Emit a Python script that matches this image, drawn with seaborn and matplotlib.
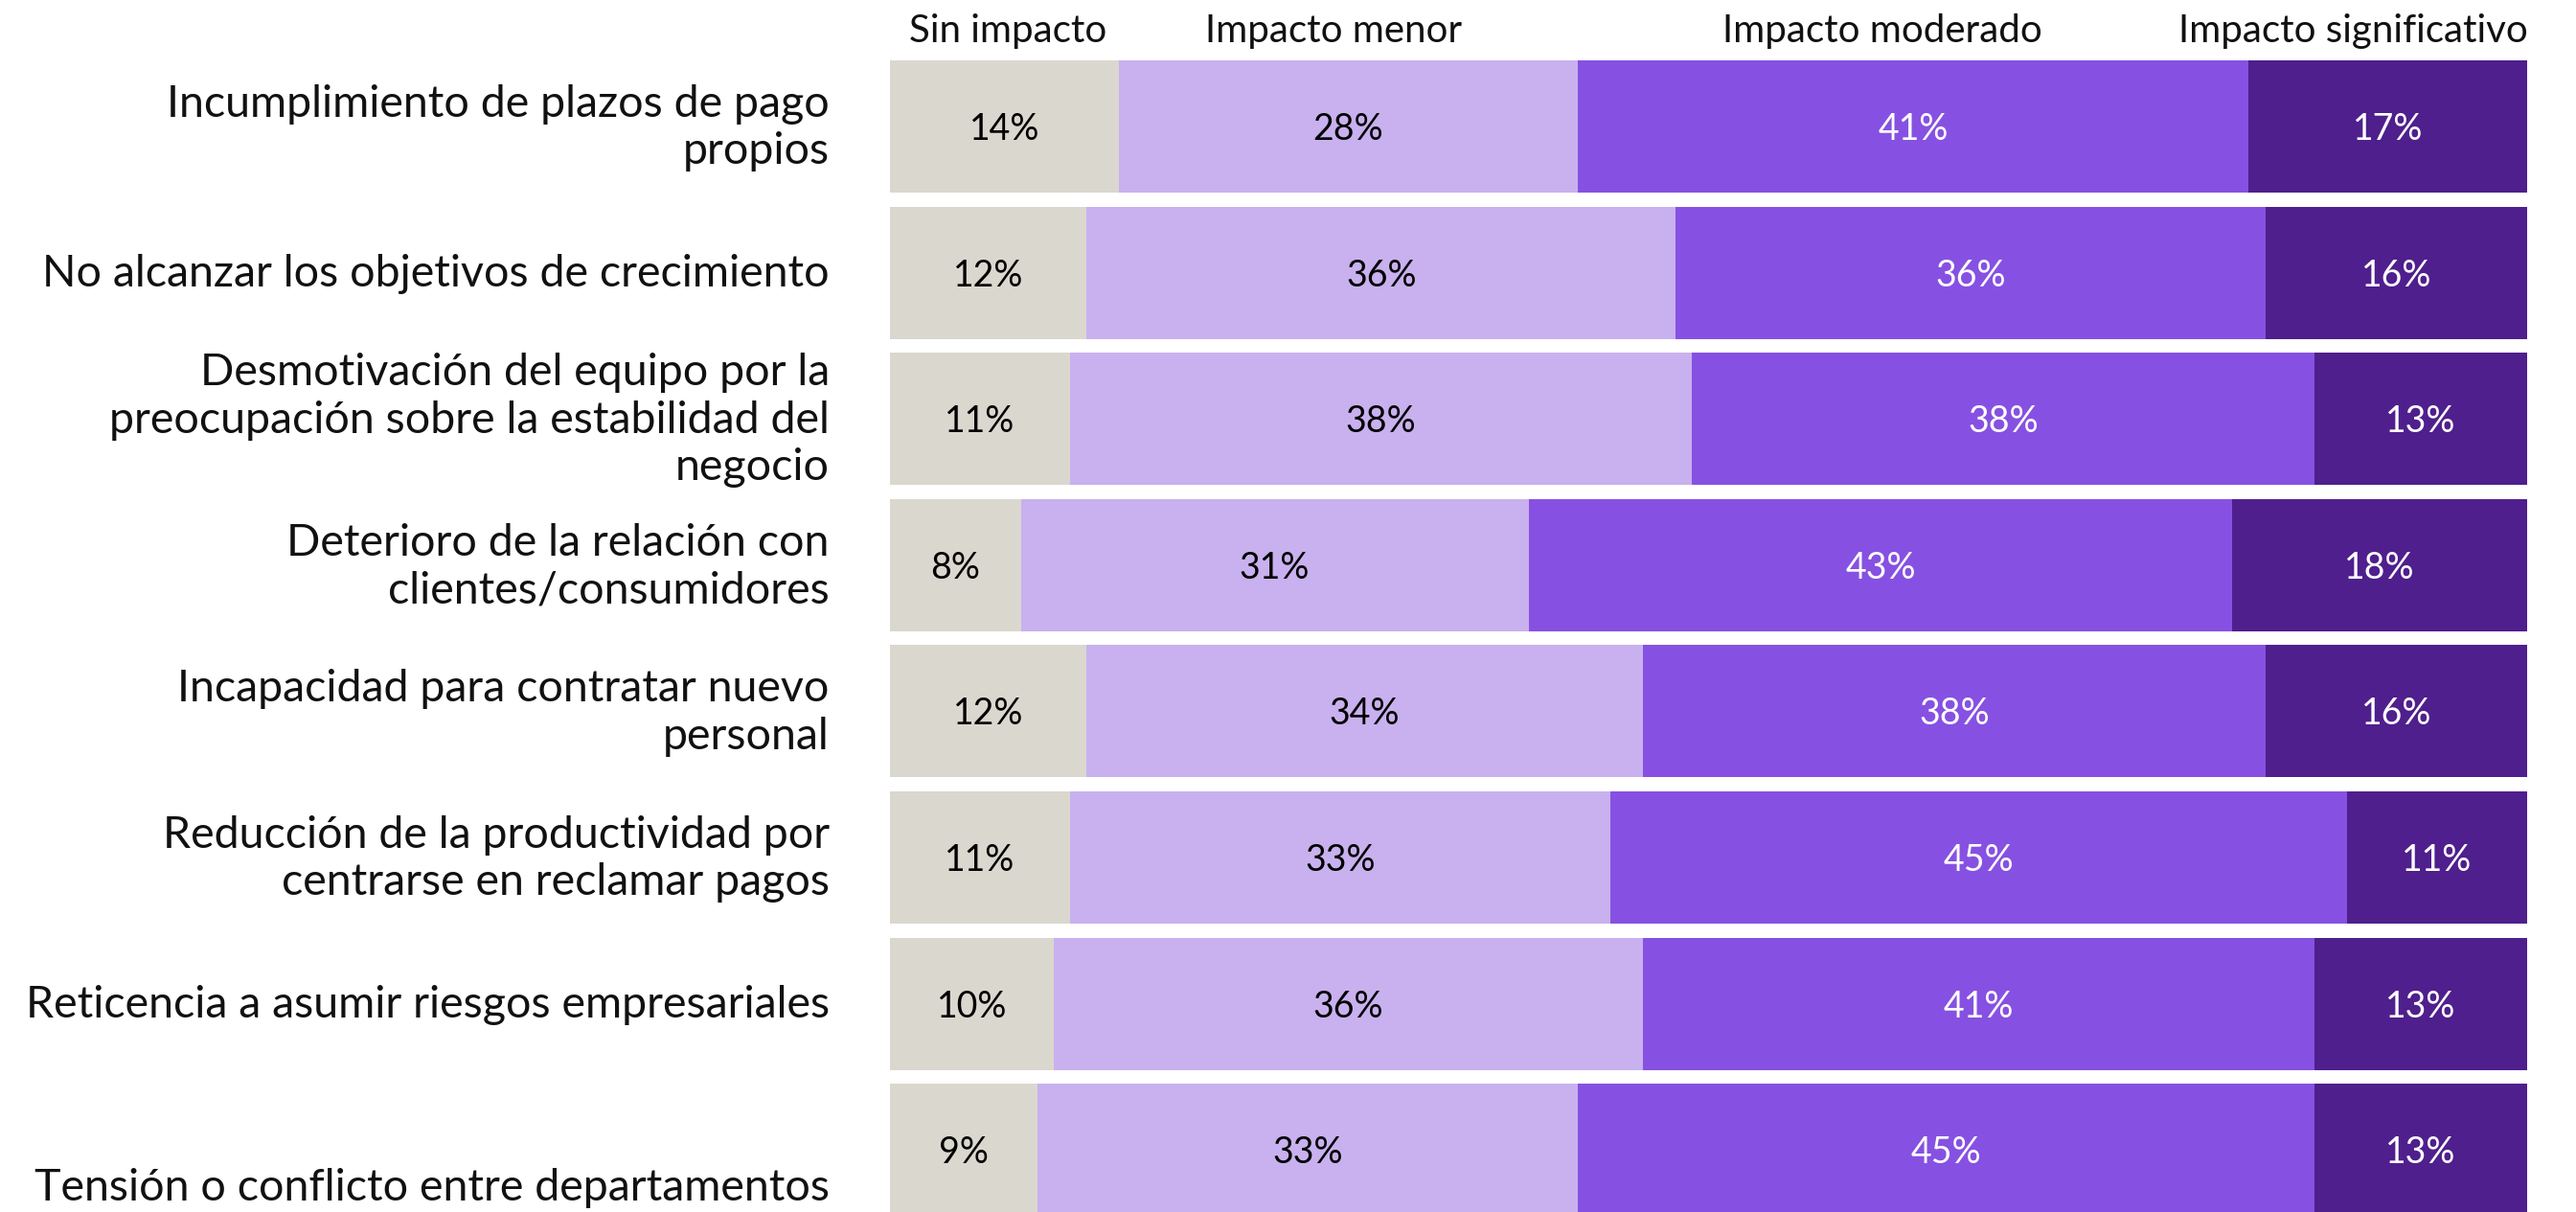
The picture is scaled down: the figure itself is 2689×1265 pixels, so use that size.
import matplotlib.pyplot as plt
import pandas as pd
import seaborn as sns

categories = [
    "Incumplimiento de plazos de pago\npropios",
    "No alcanzar los objetivos de crecimiento",
    "Desmotivación del equipo por la\npreocupación sobre la estabilidad del\nnegocio",
    "Deterioro de la relación con\nclientes/consumidores",
    "Incapacidad para contratar nuevo\npersonal",
    "Reducción de la productividad por\ncentrarse en reclamar pagos",
    "Reticencia a asumir riesgos empresariales",
    "Tensión o conflicto entre departamentos",
]
levels = ["Sin impacto", "Impacto menor", "Impacto moderado", "Impacto significativo"]
sin_impacto = [14, 12, 11, 8, 12, 11, 10, 9]
impacto_menor = [28, 36, 38, 31, 34, 33, 36, 33]
impacto_moderado = [41, 36, 38, 43, 38, 45, 41, 45]
impacto_significativo = [17, 16, 13, 18, 16, 11, 13, 13]

colors = ["#DAD7CF", "#C8B1EE", "#8651E2", "#4F1F8D"]
text_colors = ["black", "black", "white", "white"]

df = pd.DataFrame({
    "cat": categories,
    levels[0]: sin_impacto,
    levels[1]: impacto_menor,
    levels[2]: impacto_moderado,
    levels[3]: impacto_significativo,
})
cum = df[levels].cumsum(axis=1)

sns.set_style("white")
plt.rcParams["font.family"] = ["Lato", "DejaVu Sans"]

fig = plt.figure(figsize=(26.89, 12.65), dpi=100)
ax = fig.add_axes([929 / 2689, 0, (2638 - 929) / 2689, 1])

# stacked bars: draw the cumulative totals from the widest down
for lev, col in reversed(list(zip(levels, colors))):
    plot_df = pd.DataFrame({"cat": df["cat"], "val": cum[lev]})
    sns.barplot(data=plot_df, x="val", y="cat", order=categories, color=col,
                saturation=1, width=0.905, orient="h", linewidth=0, ax=ax)

# percentage labels
for i in range(len(categories)):
    start = 0
    for j, lev in enumerate(levels):
        v = df.loc[i, lev]
        ax.text(start + v / 2, i + 0.02, f"{v}%", ha="center", va="center",
                fontsize=27, color=text_colors[j])
        start += v

# category labels
label_shift = [0, 0, 0, 0, 0, 0, 0, 0.25]
for i, c in enumerate(categories):
    ax.text(-3.7, i + 0.01 + label_shift[i], c, ha="right", va="center",
            fontsize=33.5, linespacing=1.22, color="#111111")

# column headers
header_x = [7.2, 27.1, 60.6, 89.4]
for lev, hx in zip(levels, header_x):
    ax.text(hx, -0.65, lev, ha="center", va="center", fontsize=29, color="#111111")

ax.set_xlim(0, 100)
ax.set_ylim((1265 - 132) / 152.6, -132 / 152.6)
ax.set_xlabel("")
ax.set_ylabel("")
ax.set_xticks([])
ax.set_yticks([])
sns.despine(ax=ax, left=True, bottom=True)

fig.savefig("out.png", dpi=100)
